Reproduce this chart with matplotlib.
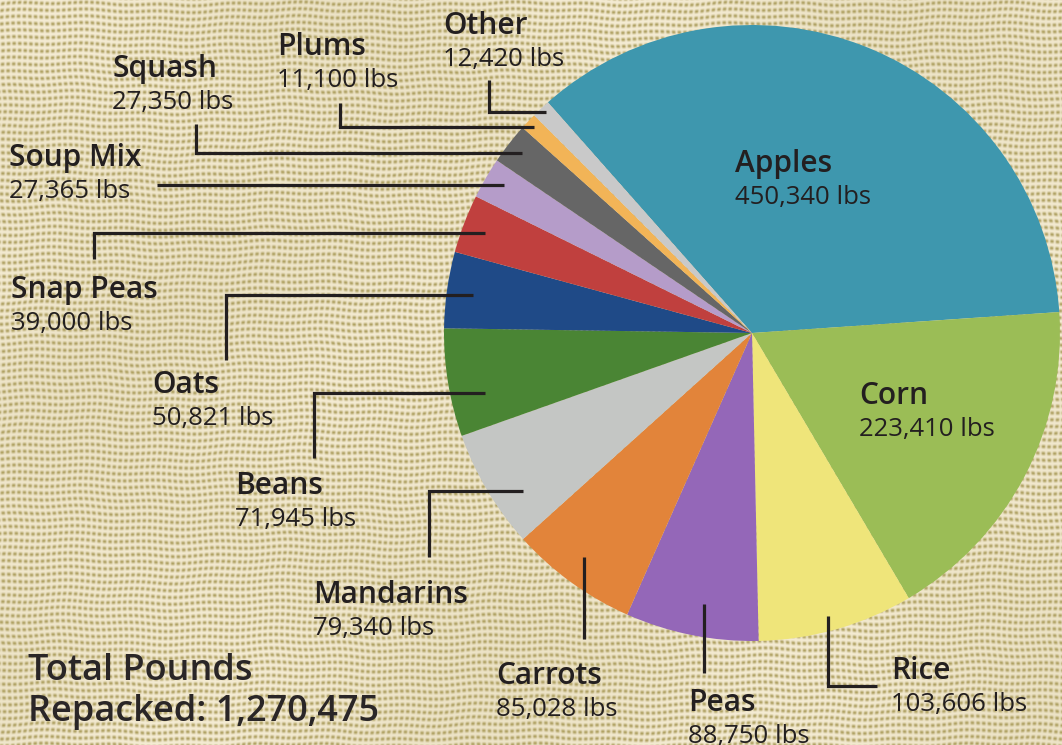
import numpy as np
import matplotlib.pyplot as plt
from matplotlib.colors import to_rgb

# ==================== 数据 ====================
crops = ["Apples", "Corn", "Rice", "Peas", "Carrots", "Mandarins", "Beans",
         "Oats", "Snap Peas", "Soup Mix", "Squash", "Plums", "Other"]
pounds = [450340, 223410, 103606, 88750, 85028, 79340, 71945,
          50821, 39000, 27365, 27350, 11100, 12420]
colors = ["#3e97ae", "#9bbd56", "#efe57a", "#9467b8", "#e2843a", "#c4c6c4",
          "#4a8534", "#1f4a87", "#c0403e", "#b59cc9", "#666666", "#f2b457",
          "#c9c9c9"]

# ==================== 布局 (像素, 从上往下) ====================
W, H = 1062, 745
CENTER = (752, 333)
RADIUS = 308

# 名称基线位置
label_xy = {
    "Apples":    (735, 172),
    "Corn":      (859, 404),
    "Rice":      (891, 679),
    "Peas":      (688, 711),
    "Carrots":   (496, 684),
    "Mandarins": (313, 603),
    "Beans":     (235, 494),
    "Oats":      (152, 393),
    "Snap Peas": (11, 298),
    "Soup Mix":  (9, 166),
    "Squash":    (112, 77),
    "Plums":     (277, 55),
    "Other":     (443, 34),
}

# 引线 (折线)
leaders = {
    "Rice":      [(828, 616), (828, 686), (877, 686)],
    "Peas":      [(704, 604), (704, 673)],
    "Carrots":   [(584, 557), (584, 639)],
    "Mandarins": [(429, 557), (429, 491), (523, 491)],
    "Beans":     [(314, 458), (314, 393), (485, 393)],
    "Oats":      [(226, 360), (226, 295), (473, 295)],
    "Snap Peas": [(94, 259), (94, 233), (485, 233)],
    "Soup Mix":  [(157, 185), (504, 185)],
    "Squash":    [(196, 124), (196, 153), (522, 153)],
    "Plums":     [(340, 103), (340, 127), (534, 127)],
    "Other":     [(489, 80), (489, 112), (546, 112)],
}

TEXT_COLOR = "#231f20"
FONT = ["Open Sans", "DejaVu Sans"]


def fy(py):
    return H - py


def burlap_texture():
    # 麻布背景纹理 (确定性图案)
    yy, xx = np.mgrid[0:H, 0:W].astype(float)
    jx = 1.3 * np.sin(yy / 23.0) + 0.9 * np.sin(yy / 9.7 + xx / 57.0)
    jy = 1.1 * np.sin(xx / 37.0) + 0.8 * np.sin(xx / 11.3 + yy / 71.0)
    warp = 0.5 + 0.5 * np.cos(2 * np.pi * xx / 5.6 + jx)
    weft = 0.5 + 0.5 * np.cos(2 * np.pi * yy / 6.8 + jy)
    t = 1 - (1 - weft ** 0.8) * (1 - 0.85 * warp ** 1.4)
    patch = 0.5 + 0.5 * np.sin(xx / 90.0 + np.cos(yy / 70.0)) * np.cos(yy / 110.0)
    t = np.clip(t * (0.88 + 0.12 * patch), 0, 1)[..., None]
    dark = np.array(to_rgb("#b0a264"))
    light = np.array(to_rgb("#f5ecd4"))
    return dark + (light - dark) * t


fig = plt.figure(figsize=(W / 100, H / 100), dpi=100)
ax = fig.add_axes([0, 0, 1, 1])

ax.imshow(burlap_texture(), extent=(0, W, 0, H), origin="upper",
          zorder=0, interpolation="bilinear")

total = sum(pounds)
start = 3.9 + 360 * pounds[0] / total
ax.pie(pounds, colors=colors, startangle=start, counterclock=False,
       center=(CENTER[0], fy(CENTER[1])), radius=RADIUS,
       wedgeprops=dict(linewidth=0), frame=True)

for crop, value in zip(crops, pounds):
    x, y = label_xy[crop]
    ax.text(x, fy(y), crop, fontsize=21.5, fontweight="semibold",
            family=FONT, color=TEXT_COLOR, va="baseline", ha="left", zorder=5)
    ax.text(x, fy(y + 32), f"{value:,} lbs", fontsize=18.5,
            family=FONT, color=TEXT_COLOR, va="baseline", ha="left", zorder=5)
    if crop in leaders:
        pts = leaders[crop]
        ax.plot([p[0] for p in pts], [fy(p[1]) for p in pts],
                color="#231f20", linewidth=2.3, solid_capstyle="butt",
                solid_joinstyle="miter", zorder=4)

ax.text(28, fy(680), "Total Pounds", fontsize=26, fontweight="semibold",
        family=FONT, color="#2a2627", va="baseline", ha="left", zorder=5)
ax.text(28, fy(721), f"Repacked: {total:,}", fontsize=26, fontweight="semibold",
        family=FONT, color="#2a2627", va="baseline", ha="left", zorder=5)

ax.set_xlim(0, W)
ax.set_ylim(0, H)
ax.set_aspect("equal")
ax.axis("off")

plt.savefig("out.png", dpi=100)
plt.close()
